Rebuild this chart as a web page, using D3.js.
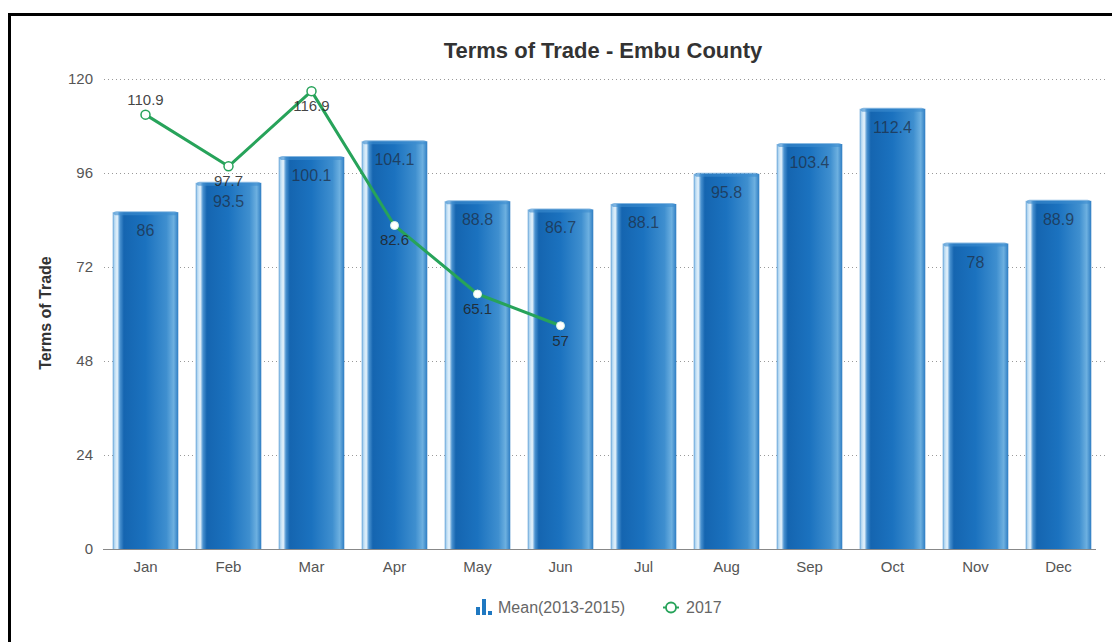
<!DOCTYPE html>
<html>
<head>
<meta charset="utf-8">
<style>
  body { margin: 0; background: #fff; }
  svg { font-family: "Liberation Sans", Arial, sans-serif; }
</style>
</head>
<body>
<svg width="1112" height="642"></svg>
<script src="https://d3js.org/d3.v7.min.js"></script>
<script>

var months = ["Jan","Feb","Mar","Apr","May","Jun","Jul","Aug","Sep","Oct","Nov","Dec"];
var meanValues = [86, 93.5, 100.1, 104.1, 88.8, 86.7, 88.1, 95.8, 103.4, 112.4, 78, 88.9];
var months2017 = ["Jan","Feb","Mar","Apr","May","Jun"];
var values2017 = [110.9, 97.7, 116.9, 82.6, 65.1, 57];
var yTicks = [0, 24, 48, 72, 96, 120];

var svg = d3.select("svg"),
    margin = {top: 79, right: 12, bottom: 93, left: 104},
    width = 1100 - margin.left,
    height = 549 - margin.top;

// frame
svg.append("rect")
  .attr("x", 9.5).attr("y", 14.5)
  .attr("width", 1120).attr("height", 660)
  .attr("fill", "none").attr("stroke", "#000").attr("stroke-width", 3);

var defs = svg.append("defs");
var grad = defs.append("linearGradient").attr("id", "barGrad")
  .attr("x1", "0%").attr("x2", "100%").attr("y1", "0%").attr("y2", "0%");
[[0, "#5e9fd6"], [0.03, "#bcdcf3"], [0.07, "#e6f3fc"], [0.11, "#4a92d0"],
 [0.17, "#1565b0"], [0.5, "#1b72bf"], [0.82, "#3f8fcf"], [0.93, "#6db0e0"], [1, "#2d7cc2"]]
  .forEach(function(s) { grad.append("stop").attr("offset", s[0]).attr("stop-color", s[1]); });

var g = svg.append("g").attr("transform", "translate(" + margin.left + "," + margin.top + ")");

var x = d3.scaleBand().domain(months).range([0, width]).paddingInner(0.21).paddingOuter(0.105);
var y = d3.scaleLinear().domain([0, 120]).range([height, 0]);

// grid
g.append("g").selectAll("line").data(yTicks.slice(1)).enter().append("line")
  .attr("x1", 0).attr("x2", width + 5)
  .attr("y1", function(d) { return y(d) + 0.5; }).attr("y2", function(d) { return y(d) + 0.5; })
  .attr("stroke", "#999").attr("stroke-dasharray", "1,3");

// y axis labels
var yAxis = g.append("g").call(d3.axisLeft(y).tickValues(yTicks).tickSize(0).tickPadding(11));
yAxis.select(".domain").remove();
yAxis.selectAll("text").attr("fill", "#555").style("font-size", "15px");

// x axis
var xAxis = g.append("g").attr("transform", "translate(0," + height + ")")
  .call(d3.axisBottom(x).tickSize(0).tickPadding(12));
xAxis.select(".domain").attr("stroke", "#888").attr("d", "M-1,0.5H" + (width - 4));
xAxis.selectAll("text").attr("fill", "#555").style("font-size", "15px");

// bars
var bars = g.append("g").selectAll("g").data(meanValues).enter().append("g");
bars.append("rect")
  .attr("x", function(d, i) { return x(months[i]); })
  .attr("y", function(d) { return y(d); })
  .attr("width", x.bandwidth())
  .attr("height", function(d) { return height - y(d); })
  .attr("fill", "url(#barGrad)");
bars.append("rect")
  .attr("x", function(d, i) { return x(months[i]) + 1; })
  .attr("y", function(d) { return y(d) - 1; })
  .attr("width", x.bandwidth() - 2)
  .attr("height", 4)
  .attr("rx", 3)
  .attr("fill", "#3c8ccf").attr("opacity", 0.6);
bars.append("text")
  .attr("x", function(d, i) { return x(months[i]) + x.bandwidth() / 2; })
  .attr("y", function(d) { return y(d) + 24; })
  .attr("text-anchor", "middle")
  .attr("fill", "#1f2f45").attr("fill-opacity", 0.75)
  .style("font-size", "16px")
  .text(function(d) { return d; });

// 2017 line
var line = d3.line()
  .x(function(d, i) { return x(months2017[i]) + x.bandwidth() / 2; })
  .y(function(d) { return y(d); });

g.append("path").datum(values2017)
  .attr("fill", "none").attr("stroke", "#27a35a").attr("stroke-width", 3)
  .attr("stroke-linejoin", "round")
  .attr("d", line);

g.append("g").selectAll("circle").data(values2017).enter().append("circle")
  .attr("cx", function(d, i) { return x(months2017[i]) + x.bandwidth() / 2; })
  .attr("cy", function(d) { return y(d); })
  .attr("r", function(d, i) { return i < 3 ? 4.5 : 4; })
  .attr("fill", "#fff")
  .attr("stroke", function(d, i) { return i < 3 ? "#27a35a" : "#d9f3e3"; })
  .attr("stroke-width", function(d, i) { return i < 3 ? 1.5 : 1; });

g.append("g").selectAll("text").data(values2017).enter().append("text")
  .attr("x", function(d, i) { return x(months2017[i]) + x.bandwidth() / 2; })
  .attr("y", function(d, i) { return i === 0 ? y(d) - 10 : y(d) + 20; })
  .attr("text-anchor", "middle")
  .attr("fill", "#222").attr("fill-opacity", 0.85)
  .style("font-size", "15px")
  .text(function(d) { return d; });

// title
svg.append("text")
  .attr("x", 603).attr("y", 58)
  .attr("text-anchor", "middle")
  .attr("fill", "#333")
  .style("font-size", "22px").style("font-weight", "bold")
  .text("Terms of Trade - Embu County");

// y axis title
svg.append("text")
  .attr("transform", "translate(51," + 313 + ") rotate(-90)")
  .attr("text-anchor", "middle")
  .attr("fill", "#333")
  .style("font-size", "16px").style("font-weight", "bold")
  .text("Terms of Trade");

// legend
var legend = svg.append("g").attr("transform", "translate(476,607)");
[[0, 8, 4], [6, 16, 4], [12, 4, 4]].forEach(function(b) {
  legend.append("rect").attr("x", b[0]).attr("y", 8 - b[1]).attr("width", b[2]).attr("height", b[1])
    .attr("fill", "#1f78c1");
});
legend.append("text").attr("x", 22).attr("y", 6).attr("fill", "#666")
  .style("font-size", "16px").text("Mean(2013-2015)");
legend.append("line").attr("x1", 187).attr("x2", 203).attr("y1", 0.5).attr("y2", 0.5)
  .attr("stroke", "#27a35a").attr("stroke-width", 2);
legend.append("circle").attr("cx", 195).attr("cy", 0.5).attr("r", 5)
  .attr("fill", "#fff").attr("stroke", "#27a35a").attr("stroke-width", 1.8);
legend.append("text").attr("x", 210).attr("y", 6).attr("fill", "#666")
  .style("font-size", "16px").text("2017");

</script>
</body>
</html>
